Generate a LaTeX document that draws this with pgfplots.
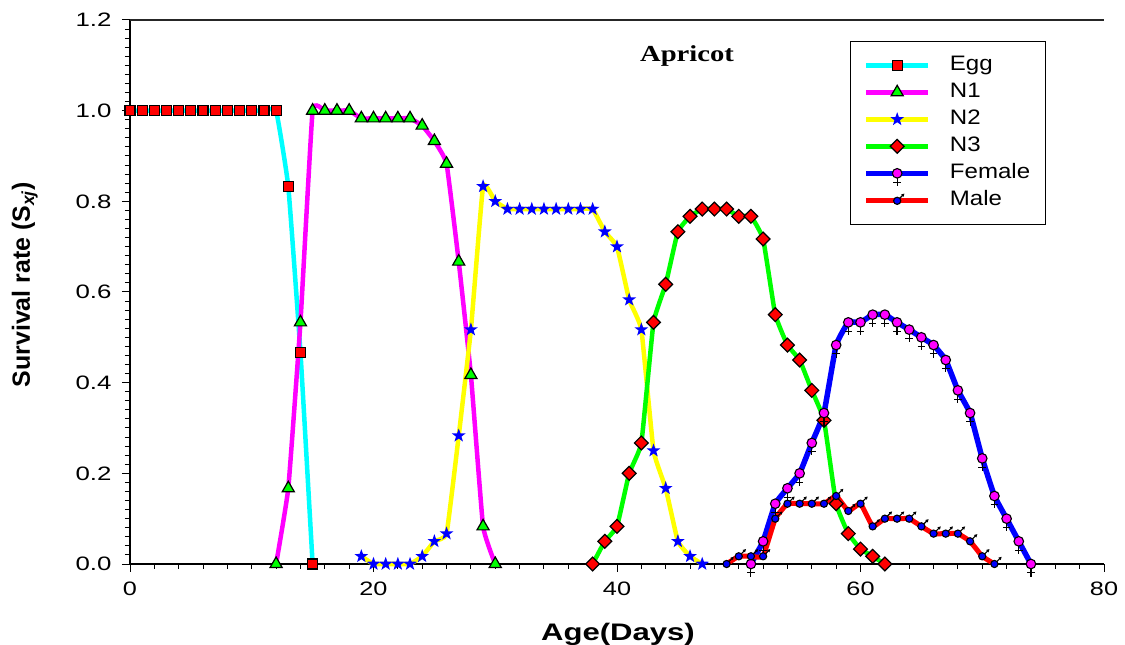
\documentclass[border=0pt]{standalone}
\usepackage{fontspec}
\setmainfont{Liberation Sans}
\newfontfamily\timesfont{Liberation Serif}
\usepackage{graphicx}
\usepackage{pgfplots}
\usepackage{pgfplotstable}
\pgfplotsset{compat=1.18}
\definecolor{cCyan}{RGB}{0,255,255}
\definecolor{cMag}{RGB}{255,0,255}
\definecolor{cYel}{RGB}{255,255,0}
\definecolor{cGrn}{RGB}{0,255,0}
\definecolor{cBlu}{RGB}{0,0,255}
\definecolor{cRed}{RGB}{255,0,0}

\pgfdeclareplotmark{fstar}{%
  \pgfpathmoveto{\pgfqpoint{0bp}{7.2bp}}%
  \pgfpathlineto{\pgfqpoint{1.69bp}{2.33bp}}%
  \pgfpathlineto{\pgfqpoint{6.85bp}{2.22bp}}%
  \pgfpathlineto{\pgfqpoint{2.74bp}{-0.89bp}}%
  \pgfpathlineto{\pgfqpoint{4.23bp}{-5.83bp}}%
  \pgfpathlineto{\pgfqpoint{0bp}{-2.88bp}}%
  \pgfpathlineto{\pgfqpoint{-4.23bp}{-5.83bp}}%
  \pgfpathlineto{\pgfqpoint{-2.74bp}{-0.89bp}}%
  \pgfpathlineto{\pgfqpoint{-6.85bp}{2.22bp}}%
  \pgfpathlineto{\pgfqpoint{-1.69bp}{2.33bp}}%
  \pgfpathclose
  \pgfsetfillcolor{cBlu}%
  \pgfusepathqfill
}
\pgfdeclareplotmark{female}{%
  \pgfsetlinewidth{1.1bp}%
  \pgfsetstrokecolor{black}%
  \pgfpathmoveto{\pgfqpoint{0bp}{-4.5bp}}\pgfpathlineto{\pgfqpoint{0bp}{-12.5bp}}%
  \pgfpathmoveto{\pgfqpoint{-3.8bp}{-8.8bp}}\pgfpathlineto{\pgfqpoint{3.8bp}{-8.8bp}}%
  \pgfusepathqstroke
  \pgfsetfillcolor{cMag}%
  \pgfpathcircle{\pgfpointorigin}{4.8bp}%
  \pgfusepathqfillstroke
}
\pgfdeclareplotmark{male}{%
  \pgfsetlinewidth{1.1bp}%
  \pgfsetstrokecolor{black}%
  \pgfsetfillcolor{black}%
  \pgfpathmoveto{\pgfqpoint{2bp}{2bp}}\pgfpathlineto{\pgfqpoint{6bp}{6bp}}%
  \pgfusepathqstroke
  \pgfpathmoveto{\pgfqpoint{7.2bp}{7.2bp}}\pgfpathlineto{\pgfqpoint{3.9bp}{6.3bp}}\pgfpathlineto{\pgfqpoint{6.3bp}{3.9bp}}\pgfpathclose
  \pgfusepathqfill
  \pgfsetfillcolor{cBlu}%
  \pgfpathcircle{\pgfpointorigin}{3.6bp}%
  \pgfusepathqfillstroke
}

\pgfplotstableread{
x y
0 1
1 1
2 1
3 1
4 1
5 1
6 1
7 1
8 1
9 1
10 1
11 1
12 1
13 0.833
14 0.467
15 0
}\egg
\pgfplotstableread{
x y
12 0
13 0.167
14 0.533
15 1
16 1
17 1
18 1
19 0.983
20 0.983
21 0.983
22 0.983
23 0.983
24 0.967
25 0.933
26 0.883
27 0.667
28 0.417
29 0.083
30 0
}\nI
\pgfplotstableread{
x y
19 0.017
20 0
21 0
22 0
23 0
24 0.017
25 0.05
26 0.067
27 0.283
28 0.517
29 0.833
30 0.8
31 0.783
32 0.783
33 0.783
34 0.783
35 0.783
36 0.783
37 0.783
38 0.783
39 0.733
40 0.7
41 0.583
42 0.517
43 0.25
44 0.167
45 0.05
46 0.017
47 0
}\nII
\pgfplotstableread{
x y
38 0
39 0.05
40 0.083
41 0.2
42 0.267
43 0.533
44 0.617
45 0.733
46 0.767
47 0.783
48 0.783
49 0.783
50 0.767
51 0.767
52 0.717
53 0.55
54 0.483
55 0.45
56 0.383
57 0.317
58 0.133
59 0.067
60 0.033
61 0.017
62 0
}\nIII
\pgfplotstableread{
x y
51 0
52 0.05
53 0.133
54 0.167
55 0.2
56 0.267
57 0.333
58 0.483
59 0.533
60 0.533
61 0.55
62 0.55
63 0.533
64 0.517
65 0.5
66 0.483
67 0.45
68 0.383
69 0.333
70 0.233
71 0.15
72 0.1
73 0.05
74 0
}\female
\pgfplotstableread{
x y
49 0
50 0.017
51 0.017
52 0.017
53 0.1
54 0.133
55 0.133
56 0.133
57 0.133
58 0.15
59 0.117
60 0.133
61 0.083
62 0.1
63 0.1
64 0.1
65 0.083
66 0.067
67 0.067
68 0.067
69 0.05
70 0.017
71 0
}\male

\begin{document}
\begin{tikzpicture}
\begin{axis}[
  set layers,
  mark layer=axis foreground,
  scale only axis,
  width=974bp, height=544bp,
  xmin=0, xmax=80, ymin=0, ymax=1.2,
  axis lines*=left,
  axis line style={black, line width=1.3bp},
  clip=false,
  xtick={0,20,40,60,80},
  ytick={0,0.2,0.4,0.6,0.8,1.0,1.2},
  minor x tick num=9,
  minor y tick num=9,
  tick align=outside,
  major tick length=8bp,
  minor tick length=5bp,
  tick style={black, line width=1bp},
  /pgf/number format/assume math mode=true,
  yticklabel={\scalebox{1.33}[1]{\pgfmathprintnumber[fixed,fixed zerofill,precision=1]{\tick}}},
  xticklabel={\scalebox{1.3}[1]{\pgfmathprintnumber{\tick}}},
  yticklabel style={font=\fontsize{19.5}{22}\selectfont, xshift=-7bp},
  xticklabel style={font=\fontsize{19.5}{22}\selectfont, yshift=-6bp},
  xlabel={\scalebox{1.3}[1]{\bfseries Age(Days)}},
  xlabel style={at={(axis description cs:0.501,0)}, anchor=base, yshift=-76bp, font=\fontsize{24}{28}\selectfont},
  ylabel={\bfseries Survival rate (S\textsubscript{\itshape xj})},
  ylabel style={at={(axis description cs:-0.108,0.513)}, anchor=center, font=\fontsize{25}{29}\selectfont},
  legend cell align=left,
  legend style={at={(rel axis cs:0.739,0.962)}, anchor=north west, draw=black, line width=1.3bp,
    font=\fontsize{21}{25}\selectfont, inner xsep=13bp, inner ysep=12bp,
    nodes={inner sep=2bp, text height=15bp, text depth=5bp},
    row sep=3bp,
    /tikz/every odd column/.append style={column sep=17bp}},
  legend image code/.code={\draw[mark repeat=2,mark phase=2] plot coordinates {(0bp,0bp)(31bp,0bp)(62bp,0bp)};},
]
\draw[black!85, line width=1.3bp] (rel axis cs:0,1) -- (rel axis cs:1,1);
\addplot[cCyan, line width=4.5bp, smooth, tension=0.2, mark=square*, mark size=5bp,
  mark options={fill=cRed, draw=black, line width=1.2bp}] table {\egg};
\addlegendentry{\scalebox{1.15}[1]{Egg}}
\addplot[cMag, line width=4.5bp, smooth, tension=0.2, mark=triangle*, mark size=7bp,
  mark options={fill=cGrn, draw=black, line width=1.2bp}] table {\nI};
\addlegendentry{\scalebox{1.15}[1]{N1}}
\addplot[cYel, line width=4.5bp, smooth, tension=0.2, mark=fstar] table {\nII};
\addlegendentry{\scalebox{1.15}[1]{N2}}
\addplot[cGrn, line width=4.5bp, smooth, tension=0.2, mark=square*, mark size=4.9bp,
  mark options={fill=cRed, draw=black, line width=1.2bp, rotate=45}] table {\nIII};
\addlegendentry{\scalebox{1.15}[1]{N3}}
\addplot[cBlu, line width=5.5bp, smooth, tension=0.2, mark=female] table {\female};
\addlegendentry{\scalebox{1.15}[1]{Female}}
\addplot[cRed, line width=5bp, smooth, tension=0.2, mark=male] table {\male};
\addlegendentry{\scalebox{1.15}[1]{Male}}
\node[font=\timesfont\bfseries\fontsize{23}{26}\selectfont] at (axis cs:45.75,1.12) {\scalebox{1.25}[1]{Apricot}};
\end{axis}
\pgfresetboundingbox
\path[use as bounding box] (-130bp,-81bp) rectangle (995bp,564bp);
\end{tikzpicture}
\end{document}
